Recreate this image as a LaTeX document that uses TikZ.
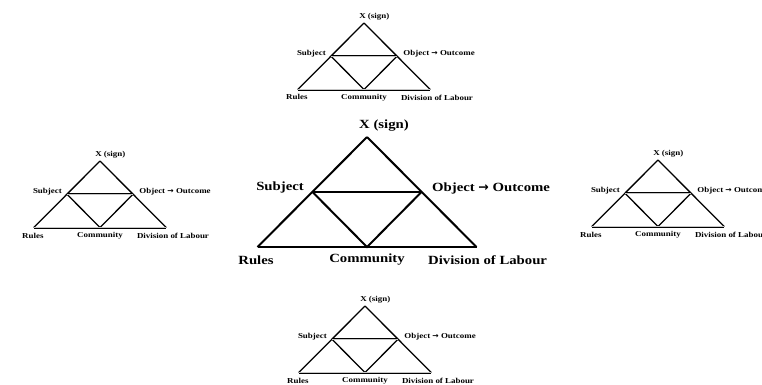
\documentclass[tikz,border=0pt]{standalone}
\usepackage{fontspec}
\newfontfamily\trifont{Liberation Serif}[FakeStretch=1.18]
\newfontfamily\arrfont{DejaVu Sans}
\tikzset{
  x=1pt, y=-1pt,
  triedge/.style={line width=2pt, line join=miter},
  trihor/.style={line width=2pt},
  trilabel/.style={inner sep=0pt, font=\trifont\bfseries\fontsize{12.5}{14}\selectfont},
  smalltri/.style={scale=0.605, transform shape,
    triedge/.style={line width=1.3pt, line join=miter},
    trihor/.style={line width=0.6pt, double=gray!45, double distance=0.7pt}},
  atri/.pic={
    \coordinate (-a)  at (0,0);
    \coordinate (-s)  at (-54.5,55);
    \coordinate (-o)  at (54.5,55);
    \coordinate (-bl) at (-109.5,110);
    \coordinate (-c)  at (0,110);
    \coordinate (-br) at (109.5,110);
    \draw[triedge] (-a) -- (-br);
    \draw[triedge] (-a) -- (-bl);
    \draw[triedge] (-s) -- (-c) -- (-o);
    \draw[trihor] (-s) -- (-o);
    \draw[trihor] (-bl) -- (-br);
    \node[trilabel, anchor=west] (-xl) at (-8,-11) {X (sign)};
    \node[trilabel, anchor=east] (-sl) at (-63,50) {Subject};
    \node[trilabel, anchor=west] (-ol) at (65,51) {Object {\arrfont\bfseries →} Outcome};
    \node[trilabel] (-rl) at (-111,123) {Rules};
    \node[trilabel] (-cl) at (0,123) {Community};
    \node[trilabel, anchor=west] (-dl) at (61,123) {Division of Labour};
  }
}
\begin{document}
\begin{tikzpicture}
\fill[white] (0,0) rectangle (762,384);
\useasboundingbox (0,0) rectangle (762,384);
\pic (m) at (367,137) {atri};
\pic[smalltri] (t) at (364,23) {atri};
\pic[smalltri] (l) at (100,161) {atri};
\pic[smalltri] (r) at (658,160) {atri};
\pic[smalltri] (b) at (365,306) {atri};
\end{tikzpicture}
\end{document}
